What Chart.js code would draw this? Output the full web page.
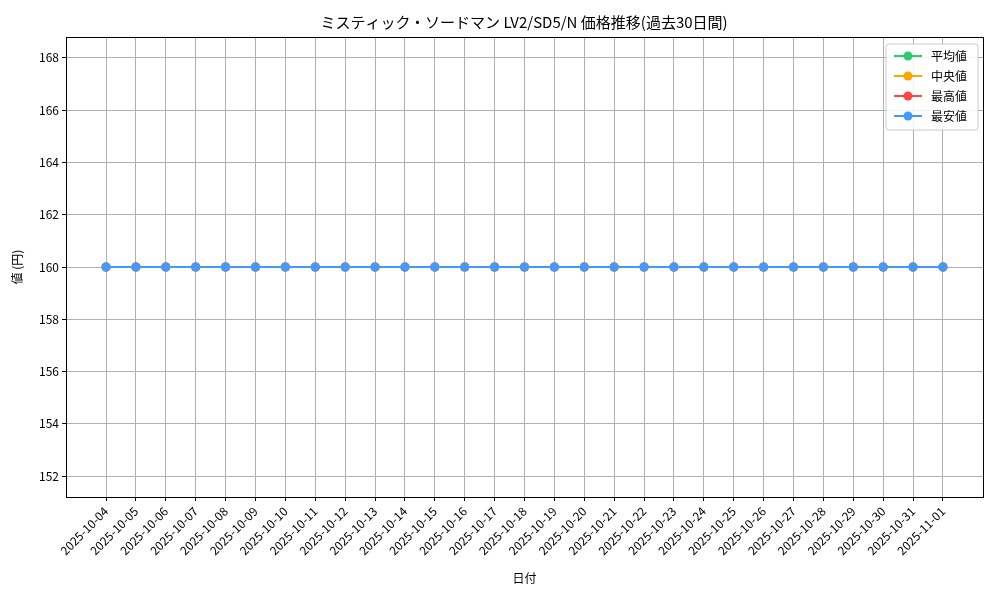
<!DOCTYPE html>
<html>
<head>
<meta charset="utf-8">
<script src="https://cdn.jsdelivr.net/npm/chart.js@4"></script>
<style>
  body { margin: 0; background: #fff; }
  #wrap { width: 1000px; height: 600px; }
</style>
</head>
<body>
<div id="wrap"><canvas id="priceChart" width="1000" height="600"></canvas></div>
<script>
var dates = ['2025-10-04','2025-10-05','2025-10-06','2025-10-07','2025-10-08','2025-10-09','2025-10-10',
  '2025-10-11','2025-10-12','2025-10-13','2025-10-14','2025-10-15','2025-10-16','2025-10-17','2025-10-18',
  '2025-10-19','2025-10-20','2025-10-21','2025-10-22','2025-10-23','2025-10-24','2025-10-25','2025-10-26',
  '2025-10-27','2025-10-28','2025-10-29','2025-10-30','2025-10-31','2025-11-01'];
var avgPrices = [160,160,160,160,160,160,160,160,160,160,160,160,160,160,160,160,160,160,160,160,160,160,160,160,160,160,160,160,160];
var medianPrices = [160,160,160,160,160,160,160,160,160,160,160,160,160,160,160,160,160,160,160,160,160,160,160,160,160,160,160,160,160];
var maxPrices = [160,160,160,160,160,160,160,160,160,160,160,160,160,160,160,160,160,160,160,160,160,160,160,160,160,160,160,160,160];
var minPrices = [160,160,160,160,160,160,160,160,160,160,160,160,160,160,160,160,160,160,160,160,160,160,160,160,160,160,160,160,160];
var yTicks = [152,154,156,158,160,162,164,166,168];

var FONT = '"Noto Sans CJK JP", "DejaVu Sans", sans-serif';

function toPoints(arr) {
    return arr.map((v, i) => ({ x: i, y: v }));
}

function makeSet(label, values, color, order) {
    return {
        label: label,
        data: toPoints(values),
        order: order,
        borderColor: color,
        backgroundColor: color,
        borderWidth: 2,
        pointRadius: 4.5,
        pointHoverRadius: 4.5,
        pointBorderWidth: 0
    };
}

// frame, title + legend box drawn like the original
var decorPlugin = {
    id: 'decor',
    afterDraw: function(chart) {
        var ctx = chart.ctx;
        var area = chart.chartArea;
        ctx.save();
        ctx.strokeStyle = '#000';
        ctx.lineWidth = 1;
        ctx.strokeRect(area.left + 0.5, area.top + 0.5, area.right - area.left, area.bottom - area.top);

        ctx.fillStyle = '#000';
        ctx.font = '15px ' + FONT;
        ctx.textAlign = 'center';
        ctx.textBaseline = 'middle';
        ctx.fillText('ミスティック・ソードマン LV2/SD5/N 価格推移(過去30日間)', 524, 22);

        var sets = chart.data.datasets;
        var bx = 886, by = 44, bw = 92, bh = 86;
        ctx.fillStyle = 'rgba(255,255,255,0.85)';
        ctx.strokeStyle = '#ccc';
        ctx.beginPath();
        ctx.roundRect(bx, by, bw, bh, 3);
        ctx.fill();
        ctx.stroke();
        ctx.font = '12px ' + FONT;
        ctx.textAlign = 'left';
        sets.forEach(function(ds, i) {
            var y = by + 12 + i * 20;
            ctx.strokeStyle = ds.borderColor;
            ctx.lineWidth = 2;
            ctx.beginPath();
            ctx.moveTo(bx + 8, y);
            ctx.lineTo(bx + 36, y);
            ctx.stroke();
            ctx.fillStyle = ds.borderColor;
            ctx.beginPath();
            ctx.arc(bx + 22, y, 4.5, 0, Math.PI * 2);
            ctx.fill();
            ctx.fillStyle = '#000';
            ctx.fillText(ds.label, bx + 45, y);
        });
        ctx.restore();
    }
};

var ctx = document.getElementById('priceChart').getContext('2d');
var chart = new Chart(ctx, {
    type: 'line',
    data: {
        datasets: [
            makeSet('平均値', avgPrices, '#2ecc71', 3),
            makeSet('中央値', medianPrices, '#ffa500', 2),
            makeSet('最高値', maxPrices, '#ff4444', 1),
            makeSet('最安値', minPrices, '#4499ff', 0)
        ]
    },
    plugins: [decorPlugin],
    options: {
        responsive: false,
        animation: false,
        layout: { padding: { top: 37, right: 17, left: 0, bottom: 0 } },
        plugins: { legend: { display: false }, title: { display: false }, tooltip: { enabled: false } },
        scales: {
            x: {
                type: 'linear',
                min: -1.34,
                max: 29.34,
                afterBuildTicks: function(scale) {
                    scale.ticks = dates.map((d, i) => ({ value: i }));
                },
                afterFit: function(scale) { scale.height = 103; },
                ticks: {
                    autoSkip: false,
                    minRotation: 45,
                    maxRotation: 45,
                    color: '#000',
                    font: { family: FONT, size: 12 },
                    callback: function(v) { return dates[v]; }
                },
                grid: { color: '#b0b0b0', tickColor: '#000', tickLength: 4 },
                border: { color: '#000' },
                title: { display: true, text: '日付', color: '#000', font: { family: FONT, size: 12 }, padding: { top: 0, bottom: 14 } }
            },
            y: {
                min: 151.2,
                max: 168.8,
                afterBuildTicks: function(scale) {
                    scale.ticks = yTicks.map(v => ({ value: v }));
                },
                afterFit: function(scale) { scale.width = 66; },
                ticks: { color: '#000', font: { family: FONT, size: 12 } },
                grid: { color: '#b0b0b0', tickColor: '#000', tickLength: 4 },
                border: { color: '#000' },
                title: { display: true, text: '値 (円)', color: '#000', font: { family: FONT, size: 12 }, padding: { top: 10, bottom: 0 } }
            }
        }
    }
});
</script>
</body>
</html>
